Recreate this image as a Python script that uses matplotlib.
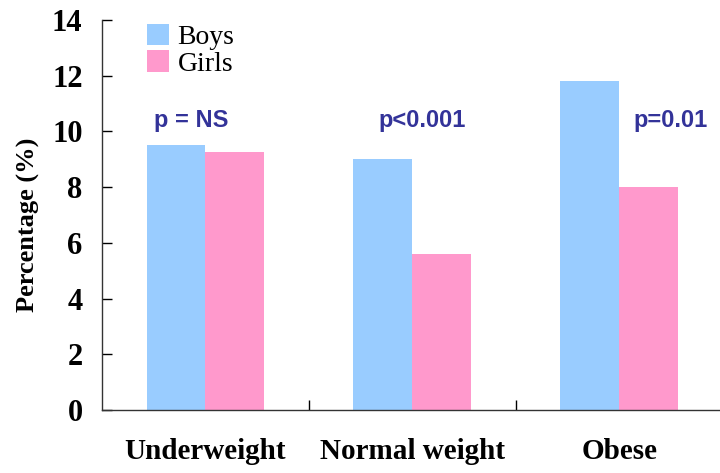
import numpy as np
import matplotlib
matplotlib.use("Agg")
import matplotlib.pyplot as plt

# Data
categories = ["Underweight", "Normal weight", "Obese"]
boys = [9.5, 9.0, 11.8]
girls = [9.25, 5.6, 8.0]
p_labels = ["p = NS", "p<0.001", "p=0.01"]
y_ticks = [0, 2, 4, 6, 8, 10, 12, 14]

BOYS_COLOR = "#99CCFF"
GIRLS_COLOR = "#FF99CC"
P_COLOR = "#333399"


def main():
    fig = plt.figure(figsize=(7.2, 4.73), dpi=100)
    ax = fig.add_axes([0.1417, 0.1332, 0.862, 0.8245])

    x = np.arange(len(categories))
    w = 0.285
    ax.bar(x - w / 2, boys, w, color=BOYS_COLOR, label="Boys")
    ax.bar(x + w / 2, girls, w, color=GIRLS_COLOR, label="Girls")

    # p-value annotations
    p_x = [-0.07, 1.046, 2.25]
    for px, lab in zip(p_x, p_labels):
        ax.text(px, 10.4, lab, ha="center", va="center", color=P_COLOR,
                fontsize=17, fontweight="bold", family="Liberation Sans")

    ax.set_xlim(-0.5, 2.5)
    ax.set_ylim(0, 14)
    ax.set_yticks(y_ticks)
    ax.set_yticklabels([str(t) for t in y_ticks], fontsize=22,
                       fontweight="bold", family="Liberation Serif")
    ax.tick_params(axis="y", direction="in", length=7, width=1, pad=14)

    ax.set_xticks(x)
    ax.set_xticklabels(categories, fontsize=21, fontweight="bold",
                       family="Liberation Serif")
    ax.tick_params(axis="x", which="major", length=0, pad=20)
    ax.set_xticks([0.5, 1.5], minor=True)
    ax.tick_params(axis="x", which="minor", direction="in", length=7, width=1)

    ax.set_ylabel("Percentage (%)", fontsize=19, fontweight="bold",
                  family="Liberation Serif")
    ax.yaxis.set_label_coords(-0.1, 0.474)

    for s in ["top", "right"]:
        ax.spines[s].set_visible(False)
    for s in ["left", "bottom"]:
        ax.spines[s].set_color("#333333")
        ax.spines[s].set_linewidth(1)

    ax.legend(loc="upper left", bbox_to_anchor=(0.05, 1.025), frameon=False,
              prop={"family": "Liberation Serif", "size": 20},
              handlelength=0.8, handleheight=0.8, handletextpad=0.3,
              labelspacing=0.0, borderpad=0)

    fig.savefig("out.png", dpi=100)
    plt.close(fig)


if __name__ == "__main__":
    main()
